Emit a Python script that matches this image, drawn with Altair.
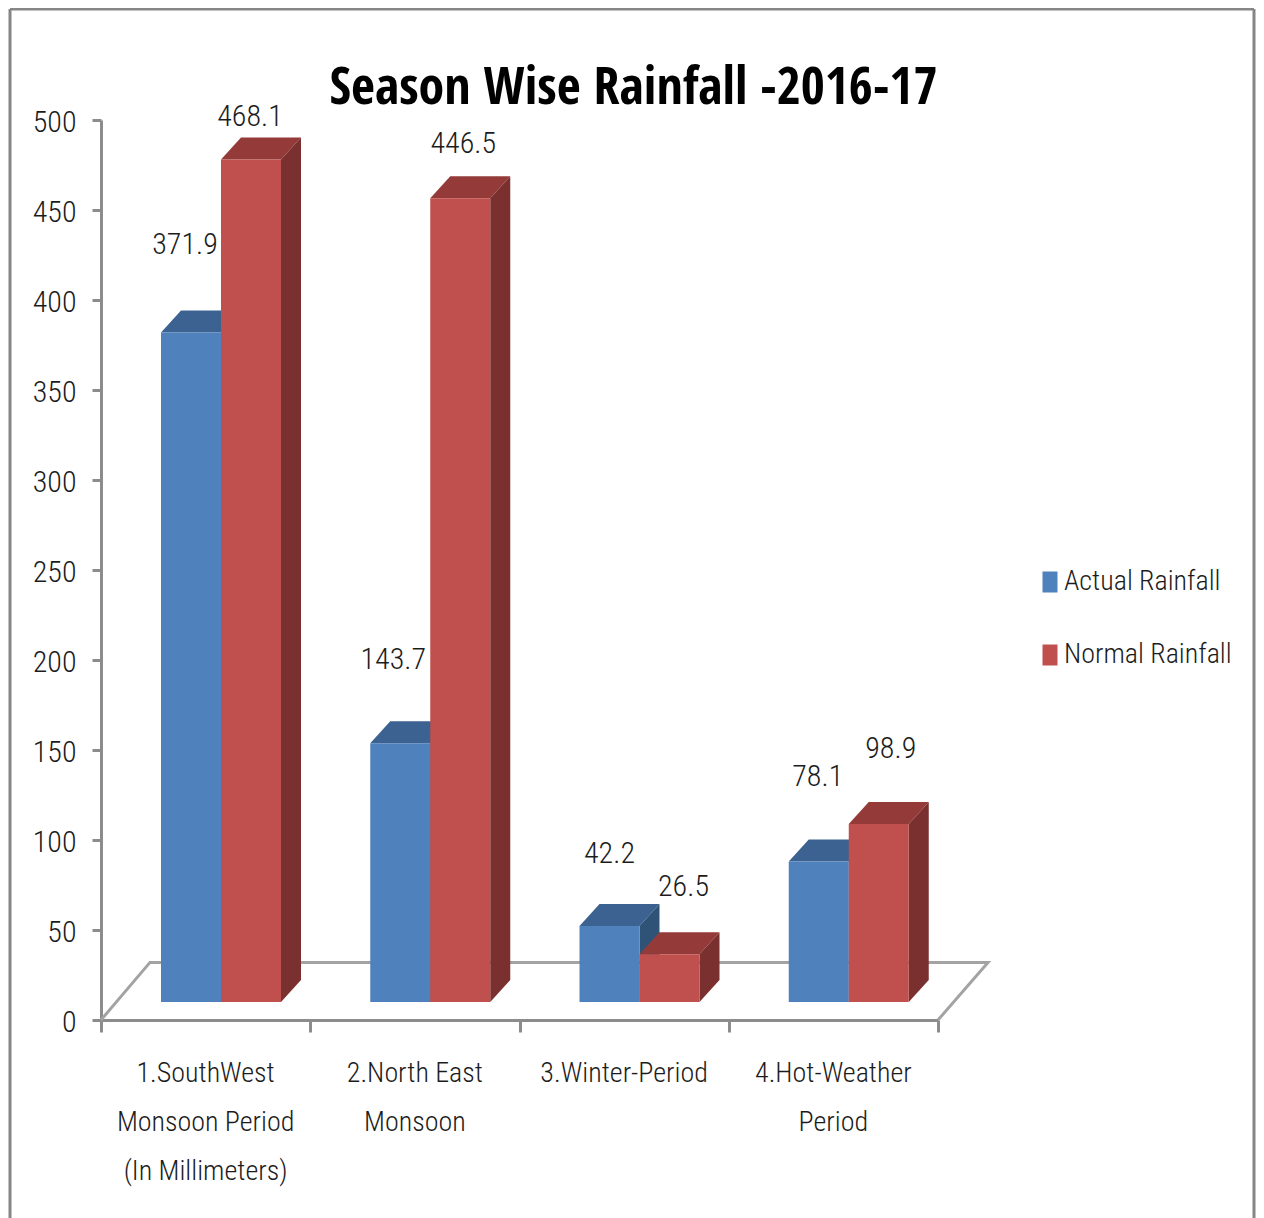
import altair as alt
import pandas as pd

categories = ["1.SouthWest\nMonsoon Period\n(In Millimeters)", "2.North East\nMonsoon", "3.Winter-Period", "4.Hot-Weather\nPeriod"]
actual = [371.9, 143.7, 42.2, 78.1]
normal = [468.1, 446.5, 26.5, 98.9]
series_names = ["Actual Rainfall", "Normal Rainfall"]
y_ticks = [0, 50, 100, 150, 200, 250, 300, 350, 400, 450, 500]

# Layout: pixels per data unit, and the pseudo-3D geometry in data units
PX_X, PX_Y = 837 / 4, 900 / 500
BASE = 10           # front faces stand a little above the axis line
DEPTH_X, DEPTH_Y = 20 / PX_X, 22 / PX_Y
BAR_W = 60 / PX_X
GROUP_START = 60 / PX_X
FLOOR_X = [0, 49 / PX_X, 4 + 50 / PX_X, 4]
FLOOR_Y = [0, 32, 32, 0]

# Hand-placed data labels (pixels relative to the bar's centre / back top edge)
label_nudge = {
    ("Actual Rainfall", 0): (-6, 66), ("Normal Rainfall", 0): (-1, 20),
    ("Actual Rainfall", 1): (-7, 61), ("Normal Rainfall", 1): (3, 32),
    ("Actual Rainfall", 2): (0, 50), ("Normal Rainfall", 2): (14, 45),
    ("Actual Rainfall", 3): (-1, 62), ("Normal Rainfall", 3): (12, 53),
}

rows, side, top, labels = [], [], [], []
for i in range(4):
    for s, (name, vals) in enumerate(zip(series_names, (actual, normal))):
        v = vals[i]
        x0 = i + GROUP_START + s * BAR_W
        x1 = x0 + BAR_W
        key = f"{i}-{s}"
        rows.append({"series": name, "x0": x0, "x1": x1, "y0": BASE, "y1": BASE + v, "value": v})
        side.append({"key": key, "series": name, "x": x1, "y": BASE, "y2": BASE + v})
        side.append({"key": key, "series": name, "x": x1 + DEPTH_X, "y": BASE + DEPTH_Y, "y2": BASE + v + DEPTH_Y})
        top.append({"key": key, "series": name, "y": BASE + v, "x": x0, "x2": x1})
        top.append({"key": key, "series": name, "y": BASE + v + DEPTH_Y, "x": x0 + DEPTH_X, "x2": x1 + DEPTH_X})
        dx, dy = label_nudge[(name, i)]
        labels.append({"x": (x0 + x1) / 2 + dx / PX_X, "y": BASE + v + DEPTH_Y + dy / PX_Y, "text": f"{v}"})

front_df = pd.DataFrame(rows)
side_df = pd.DataFrame(side)
top_df = pd.DataFrame(top)
label_df = pd.DataFrame(labels)
floor_df = pd.DataFrame({"x": FLOOR_X, "y": FLOOR_Y, "o": [0, 1, 2, 3]})
cat_df = pd.DataFrame({"x": [i + 0.5 for i in range(4)], "text": categories})

FONT = "Roboto Condensed"
TITLE_FONT = "Open Sans Condensed"
TXT = "#1c1c1c"
AXIS = "#8c8c8c"
xs = alt.Scale(domain=[0, 4], nice=False, zero=False)
ys = alt.Scale(domain=[0, 500], nice=False)
X = lambda f: alt.X(f, type="quantitative", scale=xs, title=None)
Y = lambda f: alt.Y(f, type="quantitative", scale=ys, title=None)

axes = alt.Chart(floor_df).mark_point(opacity=0).encode(
    x=alt.X("x:Q", scale=xs, title=None, axis=alt.Axis(
        values=[0, 1, 2, 3, 4], labels=False, grid=False, tickSize=12, tickWidth=3, tickColor=AXIS,
        domainColor=AXIS, domainWidth=3)),
    y=alt.Y("y:Q", scale=ys, title=None, axis=alt.Axis(
        values=y_ticks, grid=False, tickSize=9, tickWidth=3, tickColor=AXIS, domainColor=AXIS, domainWidth=3,
        labelFont=FONT, labelFontSize=30, labelFontWeight=300, labelColor=TXT, labelPadding=16, labelOffset=2)),
)

floor = alt.Chart(floor_df).mark_line(color="#a3a3a3", strokeWidth=3).encode(
    x=X("x"), y=Y("y"), order="o:Q")


def faces(series, top_color, side_color):
    t = alt.Chart(top_df[top_df.series == series]).mark_area(orient="horizontal", color=top_color).encode(
        y=Y("y"), x=X("x"), x2="x2:Q", detail="key:N")
    s = alt.Chart(side_df[side_df.series == series]).mark_area(color=side_color).encode(
        x=X("x"), y=Y("y"), y2="y2:Q", detail="key:N")
    return [t, s]


front = alt.Chart(front_df).mark_rect().encode(
    x=X("x0"), x2="x1:Q", y=Y("y0"), y2="y1:Q",
    color=alt.Color("series:N", scale=alt.Scale(domain=series_names, range=["#4f81bd", "#c0504d"]),
                    legend=alt.Legend(title=None, orient="none", legendX=935, legendY=448,
                                      symbolType="M-1,-1.4H1V1.4H-1Z", symbolSize=225, symbolStrokeWidth=0,
                                      labelFont=FONT, labelFontSize=28, labelFontWeight=300, labelColor=TXT,
                                      labelOffset=0, rowPadding=45, labelLimit=300)),
)

value_text = alt.Chart(label_df).mark_text(font=FONT, fontSize=30, fontWeight=300, color=TXT).encode(
    x=X("x"), y=Y("y"), text="text:N")

cat_text = alt.Chart(cat_df).mark_text(font=FONT, fontSize=28, fontWeight=300, color=TXT, baseline="top",
                                       lineBreak="\n", lineHeight=49).encode(
    x=X("x"), y=alt.value(940), text="text:N")

frame_color = "#868686"
frame = [
    alt.Chart(floor_df.head(1)).mark_rule(color=frame_color, strokeWidth=3).encode(
        x=alt.value(-91), x2=alt.value(1153), y=alt.value(-111)),
    alt.Chart(floor_df.head(1)).mark_rule(color=frame_color, strokeWidth=3).encode(
        x=alt.value(-91), y=alt.value(-111), y2=alt.value(1098)),
    alt.Chart(floor_df.head(1)).mark_rule(color=frame_color, strokeWidth=3).encode(
        x=alt.value(1153), y=alt.value(-111), y2=alt.value(1098)),
]

chart = alt.layer(
    axes, *frame, floor,
    *faces("Actual Rainfall", "#3b6290", "#2f5277"),
    *faces("Normal Rainfall", "#943b39", "#7a302e"),
    front, value_text, cat_text,
).properties(
    width=837, height=900,
    title=alt.TitleParams("Season Wise Rainfall  -2016-17", font=TITLE_FONT, fontSize=52, fontWeight="bold",
                          color="#000000", anchor="start", dx=321, offset=-107),
    padding={"left": 93, "top": 112, "right": 318, "bottom": 198},
    autosize="none",
).configure_view(stroke=None).configure_legend(padding=0)

chart.save("out.html", embed_options={"renderer": "svg", "actions": False})
